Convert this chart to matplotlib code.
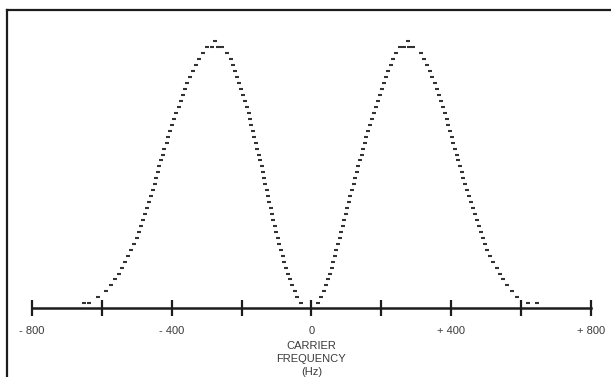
import matplotlib
matplotlib.use("Agg")
import matplotlib.pyplot as plt

# rows of the dot plot, counted up from the baseline (row 0)
filas = list(range(43))

# frequency (Hz) of the dash on each row, rows 0..42
izq_exterior = [-650, -610, -588, -575, -562, -551, -541, -534, -524, -516,
                -508, -500, -495, -489, -483, -477, -472, -466, -460, -454,
                -449, -444, -439, -436, -431, -426, -421, -414, -410, -405,
                -399, -393, -388, -380, -373, -369, -361, -355, -348, -338,
                -331, -321, -310]
izq_interior = [-31, -41, -48, -56, -62, -68, -73, -78, -82, -87,
                -92, -97, -102, -105, -109, -113, -117, -121, -124, -128,
                -132, -136, -140, -143, -147, -151, -155, -160, -164, -168,
                -172, -176, -180, -185, -190, -195, -201, -207, -212, -218,
                -224, -231, -241]
der_interior = [18, 27, 36, 42, 48, 53, 58, 62, 67, 71,
                76, 81, 84, 89, 94, 98, 102, 107, 111, 116,
                121, 124, 129, 134, 139, 144, 148, 153, 157, 163,
                167, 172, 178, 184, 189, 195, 201, 207, 212, 220,
                228, 234, 241]
der_exterior = [620, 587, 573, 559, 549, 539, 530, 520, 511, 503,
                497, 490, 484, 479, 473, 467, 461, 456, 450, 445,
                440, 434, 430, 425, 420, 416, 411, 406, 401, 396,
                392, 387, 381, 375, 370, 364, 358, 353, 346, 339,
                330, 322, 313]

# extra dashes: wide bottom rows and the two peaks
extra_f = [-636, 645, -298, -284, -269, -255, -276, 252, 265, 278, 291, 277]
extra_n = [0, 0, 43, 43, 43, 43, 44, 43, 43, 43, 43, 44]

ticks = [-800, -400, 0, 400, 800]
tick_txt = ["- 800", "- 400", "0", "+ 400", "+ 800"]
ticks_menores = [-600, -200, 200, 600]

plt.rcParams["font.family"] = ["Liberation Sans", "DejaVu Sans"]

fig = plt.figure(figsize=(6.11, 3.77), dpi=100)
ax = fig.add_axes([7 / 611, 0, 1 - 7 / 611, 1 - 10 / 377])
ax.set_xlim(-871.5, 857.2)
ax.set_ylim(-12.39, 49.29)

color_punto = "#333333"
estilo = dict(ls="none", marker="_", ms=3.4, mew=1.5, color=color_punto)
for serie in [izq_exterior, izq_interior, der_interior, der_exterior]:
    ax.plot(serie, filas, **estilo)
ax.plot(extra_f, extra_n, **estilo)

# frequency axis
ax.spines["right"].set_visible(False)
ax.spines["top"].set_linewidth(1.6)
ax.spines["left"].set_linewidth(1.6)
ax.spines["bottom"].set_position(("data", -0.8))
ax.spines["bottom"].set_bounds(-800, 800)
ax.spines["bottom"].set_linewidth(1.8)
for s in ax.spines.values():
    s.set_color("#1c1c1c")

ax.set_xticks(ticks, labels=tick_txt)
ax.set_xticks(ticks_menores, minor=True)
ax.tick_params(axis="x", which="both", direction="inout", length=11.5,
               width=1.6, color="#1c1c1c", labelsize=8, labelcolor="#3a3a3a",
               pad=7.5)
ax.set_yticks([])

ax.text(0, -6.3, "CARRIER\nFREQUENCY\n(Hz)", ha="center", va="top",
        fontsize=8, color="#3a3a3a", linespacing=1.4)

fig.savefig("out.png", dpi=100)
